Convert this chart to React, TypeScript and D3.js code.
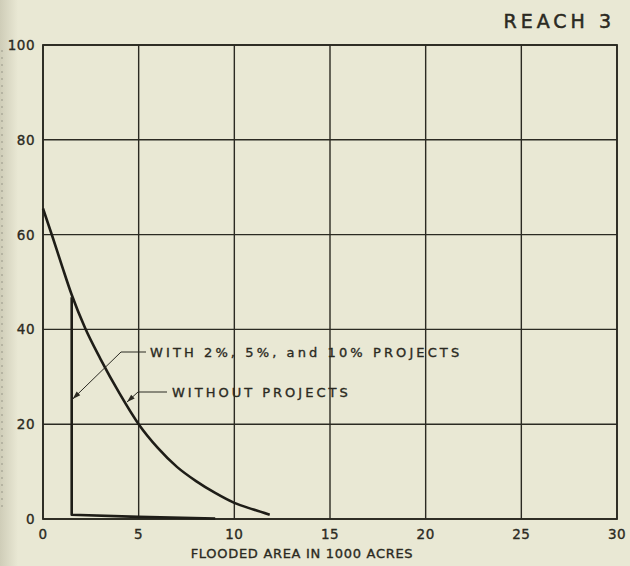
import React from "react";
import * as d3 from "d3";

const xTicks = [0, 5, 10, 15, 20, 25, 30];
const yTicks = [0, 20, 40, 60, 80, 100];

// Without projects curve
const withoutX = [0, 0.5, 1, 1.5, 2.2, 3, 4, 5, 6, 7, 8, 9, 10, 11, 11.85];
const withoutY = [65.5, 59.5, 53.3, 47.3, 40.3, 33.8, 26.5, 20, 15, 11, 8, 5.5, 3.4, 2, 0.9];

// With 2%, 5%, and 10% projects
const withX = [1.5, 1.5, 5, 9];
const withY = [46.8, 0.9, 0.45, 0.1];

const title = "REACH 3";
const xTitle = "FLOODED AREA IN 1000 ACRES";
const label1 = "WITH 2%, 5%, and 10% PROJECTS";
const label2 = "WITHOUT PROJECTS";

export default function App() {
  const W = 630, H = 566;
  const x = d3.scaleLinear().domain([0, 30]).range([43, 617]);
  const y = d3.scaleLinear().domain([0, 100]).range([519, 45]);
  const ink = "#2b2a22";
  const font = "'DejaVu Sans', sans-serif";

  const curve = d3
    .line<number>()
    .x((_, i) => x(withoutX[i]))
    .y((d) => y(d))
    .curve(d3.curveMonotoneX);
  const stepLine = d3
    .line<number>()
    .x((_, i) => x(withX[i]))
    .y((d) => y(d));

  const arrow = (x1: number, y1: number, x2: number, y2: number) => {
    const ang = Math.atan2(y2 - y1, x2 - x1);
    const L = 8, w = 2.6;
    const bx = x2 - L * Math.cos(ang), by = y2 - L * Math.sin(ang);
    const px = -Math.sin(ang) * w, py = Math.cos(ang) * w;
    return `M${x2},${y2}L${bx + px},${by + py}L${bx - px},${by - py}Z`;
  };

  const a1 = { tx: 146, ty: 352, kx: 121, ky: 352, ex: x(1.5) + 1, ey: 399 };
  const a2 = { tx: 167, ty: 392, kx: 138, ky: 392, ex: 127, ey: 402 };

  const textStyle = { stroke: ink, strokeWidth: 0.35 } as const;

  return (
    <svg
      width={W}
      height={H}
      style={{ position: "absolute", left: 0, top: 0, display: "block" }}
    >
      <defs>
        <linearGradient id="edge" x1="0" x2="1" y1="0" y2="0">
          <stop offset="0" stopColor="#cfcdb8" />
          <stop offset="1" stopColor="#e9e8d4" />
        </linearGradient>
      </defs>
      <rect x={0} y={0} width={W} height={H} fill="#e9e8d4" />
      <rect x={0} y={0} width={18} height={H} fill="url(#edge)" />
      <line x1={2} x2={2} y1={50} y2={510} stroke="#77766a" strokeWidth={1} strokeDasharray="2 5" opacity={0.6} />

      {/* grid */}
      {xTicks.map((t) => (
        <line key={"gx" + t} x1={x(t)} x2={x(t)} y1={y(0)} y2={y(100)} stroke={ink} strokeWidth={1.4} />
      ))}
      {yTicks.map((t) => (
        <line key={"gy" + t} x1={x(0)} x2={x(30)} y1={y(t)} y2={y(t)} stroke={ink} strokeWidth={1.4} />
      ))}
      <rect x={x(0)} y={y(100)} width={x(30) - x(0)} height={y(0) - y(100)} fill="none" stroke={ink} strokeWidth={1.8} />

      {/* tick labels */}
      {yTicks.map((t) => (
        <text key={"ty" + t} x={35} y={y(t) + 5} textAnchor="end" fontFamily={font} fontSize={13.5} letterSpacing={0.5} fill={ink} {...textStyle}>
          {t}
        </text>
      ))}
      {xTicks.map((t) => (
        <text key={"tx" + t} x={x(t)} y={539} textAnchor="middle" fontFamily={font} fontSize={13.5} letterSpacing={0.5} fill={ink} {...textStyle}>
          {t}
        </text>
      ))}

      {/* curves */}
      <path d={curve(withoutY) || ""} fill="none" stroke="#1e1d17" strokeWidth={2.6} />
      <path d={stepLine(withY) || ""} fill="none" stroke="#1e1d17" strokeWidth={2.6} strokeLinejoin="round" />

      {/* leaders */}
      <polyline points={`${a1.tx},${a1.ty} ${a1.kx},${a1.ky} ${a1.ex},${a1.ey}`} fill="none" stroke={ink} strokeWidth={1} />
      <path d={arrow(a1.kx, a1.ky, a1.ex, a1.ey)} fill={ink} />
      <polyline points={`${a2.tx},${a2.ty} ${a2.kx},${a2.ky} ${a2.ex},${a2.ey}`} fill="none" stroke={ink} strokeWidth={1} />
      <path d={arrow(a2.kx, a2.ky, a2.ex, a2.ey)} fill={ink} />

      <text x={150} y={357} fontFamily={font} fontSize={13} letterSpacing={3.1} fill={ink} {...textStyle}>
        {label1}
      </text>
      <text x={172} y={397} fontFamily={font} fontSize={13} letterSpacing={3.0} fill={ink} {...textStyle}>
        {label2}
      </text>

      <text x={615} y={28} textAnchor="end" fontFamily={font} fontSize={19} letterSpacing={4} fill={ink} {...textStyle} strokeWidth={0.5}>
        {title}
      </text>
      <text x={302} y={558} textAnchor="middle" fontFamily={font} fontSize={13} letterSpacing={0.7} fill={ink} {...textStyle}>
        {xTitle}
      </text>
    </svg>
  );
}
